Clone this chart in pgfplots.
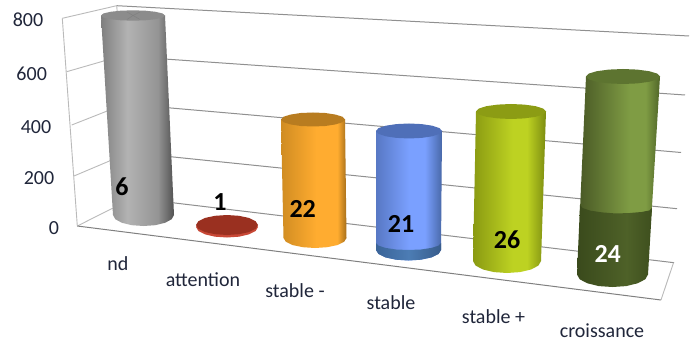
\documentclass[border=0pt]{standalone}
\usepackage{fontspec}
\setmainfont{Carlito}
\usepackage{pgfplots}
\pgfplotsset{compat=1.18}
\definecolor{gridline}{HTML}{909090}
\definecolor{wallline}{HTML}{BABABA}
\definecolor{floorline}{HTML}{808080}
\definecolor{ticktext}{HTML}{20263A}
% Side shadings of the cylinders (the path's box spans 25bp to 75bp)
\pgfdeclarehorizontalshading{cylgray}{100bp}{color(0bp)=(black!45!white); color(25bp)=(black!50!white); color(43bp)=(black!30!white); color(64bp)=(black!42!white); color(75bp)=(black!68!white); color(100bp)=(black!68!white)}
\definecolor{oa}{HTML}{D08C22}\definecolor{ob}{HTML}{FFAC30}\definecolor{oc}{HTML}{A56E1A}
\pgfdeclarehorizontalshading{cylorange}{100bp}{color(0bp)=(oa); color(25bp)=(oa); color(52bp)=(ob); color(68bp)=(ob); color(75bp)=(oc); color(100bp)=(oc)}
\definecolor{ba}{HTML}{5878C4}\definecolor{bb}{HTML}{7AA0FF}\definecolor{bc}{HTML}{4868A8}
\pgfdeclarehorizontalshading{cylblue}{100bp}{color(0bp)=(ba); color(25bp)=(ba); color(50bp)=(bb); color(62bp)=(bb); color(75bp)=(bc); color(100bp)=(bc)}
\definecolor{da}{HTML}{3A6498}\definecolor{db}{HTML}{4C7CB4}\definecolor{dc}{HTML}{385C8C}
\pgfdeclarehorizontalshading{cylbluedark}{100bp}{color(0bp)=(da); color(25bp)=(da); color(50bp)=(db); color(75bp)=(dc); color(100bp)=(dc)}
\definecolor{la}{HTML}{8A9A12}\definecolor{lb}{HTML}{BDD222}\definecolor{lc}{HTML}{7C8C10}
\pgfdeclarehorizontalshading{cyllime}{100bp}{color(0bp)=(la); color(25bp)=(la); color(52bp)=(lb); color(62bp)=(lb); color(75bp)=(lc); color(100bp)=(lc)}
\definecolor{ga}{HTML}{4A5A26}\definecolor{gb}{HTML}{7F9C44}\definecolor{gc}{HTML}{506628}
\pgfdeclarehorizontalshading{cylgreen}{100bp}{color(0bp)=(ga); color(25bp)=(ga); color(56bp)=(gb); color(66bp)=(gb); color(75bp)=(gc); color(100bp)=(gc)}
\definecolor{ka}{HTML}{3A4A1C}\definecolor{kb}{HTML}{4E6128}\definecolor{kc}{HTML}{3E4F1E}
\pgfdeclarehorizontalshading{cylgreendark}{100bp}{color(0bp)=(ka); color(25bp)=(ka); color(58bp)=(kb); color(75bp)=(kc); color(100bp)=(kc)}
\begin{document}
\begin{tikzpicture}
\begin{axis}[
  scale only axis, width=691pt, height=342pt,
  xmin=0, xmax=691, ymin=0, ymax=342, y dir=reverse,
  axis lines=none, clip=false,
  every node near coord/.append style={anchor=center, inner sep=0pt},
]
% Canvas
\addplot[draw=none, fill=white] coordinates {(0,0)(691,0)(691,342)(0,342)} --cycle;

% Left wall and back wall gridlines at 800, 600, 400, 200, 0
\addplot[wallline, line width=0.9pt, no markers] coordinates {(62.3,18.3)(116.7,5.7)};
\addplot[wallline, line width=0.9pt, no markers] coordinates {(66.7,71.7)(121,56)};
\addplot[wallline, line width=0.9pt, no markers] coordinates {(71.7,125)(125,104)};
\addplot[wallline, line width=0.9pt, no markers] coordinates {(74,176)(129.5,152.5)};
\addplot[wallline, line width=0.9pt, no markers] coordinates {(77.3,226)(133,198)};
\addplot[wallline, line width=0.9pt, no markers] coordinates {(62.3,18.3)(77.3,226)};
\addplot[wallline, line width=0.9pt, no markers] coordinates {(116.7,5.7)(133,198)};
\addplot[gridline, line width=1pt, no markers] coordinates {(116.7,5.7)(689,36)};
\addplot[gridline, line width=1pt, no markers] coordinates {(121,56)(685,95)};
\addplot[gridline, line width=1pt, no markers] coordinates {(125,104)(681,152.5)};
\addplot[gridline, line width=1pt, no markers] coordinates {(129.5,152.5)(677,208.7)};
\addplot[gridline, line width=1pt, no markers] coordinates {(133,198)(674,262.7)};
% Front and right edges of the floor
\addplot[floorline, line width=1pt, no markers] coordinates {(77.3,226)(661,300)};
\addplot[wallline, line width=0.9pt, no markers] coordinates {(661,300)(673.5,262.7)};

% nd
\addplot[draw=none, shade, shading=cylgray] coordinates {(101,15.5)(165,15.5)(174,215)(171.7,219.2)(165.1,222.8)(155.2,225.2)(143.5,226)(131.8,225.2)(121.9,222.8)(115.3,219.2)(113,215)} --cycle;
\addplot[draw=none, fill=black!45!white] coordinates {(165,15.5)(162.6,17.5)(155.6,19.2)(145.3,20.3)(133,20.7)(120.7,20.3)(110.4,19.2)(103.4,17.5)(101,15.5)(103.4,13.5)(110.4,11.8)(120.7,10.7)(133,10.3)(145.3,10.7)(155.6,11.8)(162.6,13.5)} --cycle;
\addplot[black!50!white, line width=0.5pt, no markers] coordinates {(127,12)(133,15.5)(127,19.5)};
\addplot[black!50!white, line width=0.5pt, no markers] coordinates {(140,12)(133,15.5)(140,19.5)};

% attention
\addplot[draw=none, fill={rgb,255:red,200;green,72;blue,54}] coordinates {(258,227)(255.6,231)(248.9,234.4)(238.9,236.7)(227,237.5)(215.1,236.7)(205.1,234.4)(198.4,231)(196,227)(198.4,223)(205.1,219.6)(215.1,217.3)(227,216.5)(238.9,217.3)(248.9,219.6)(255.6,223)} --cycle;
\addplot[draw=none, fill={rgb,255:red,154;green,48;blue,32}] coordinates {(258,225)(255.6,228.8)(248.9,232.1)(238.9,234.2)(227,235)(215.1,234.2)(205.1,232.1)(198.4,228.8)(196,225)(198.4,221.2)(205.1,217.9)(215.1,215.8)(227,215)(238.9,215.8)(248.9,217.9)(255.6,221.2)} --cycle;

% stable -
\addplot[draw=none, shade, shading=cylorange] coordinates {(281,119.5)(345,119.5)(346.5,238)(344.1,241.8)(337.3,245.1)(327.1,247.2)(315,248)(302.9,247.2)(292.7,245.1)(285.9,241.8)(283.5,238)} --cycle;
\addplot[draw=none, fill={rgb,255:red,184;green,124;blue,32}] coordinates {(345,119.5)(342.6,122.2)(335.6,124.4)(325.3,126)(313,126.5)(300.7,126)(290.4,124.4)(283.4,122.2)(281,119.5)(283.4,116.8)(290.4,114.6)(300.7,113)(313,112.5)(325.3,113)(335.6,114.6)(342.6,116.8)} --cycle;

% stable
\addplot[draw=none, shade, shading=cylblue] coordinates {(376,131)(442,131)(441,250)(438.5,254)(431.5,257.4)(420.9,259.7)(408.5,260.5)(396.1,259.7)(385.5,257.4)(378.5,254)(376,250)} --cycle;
\addplot[draw=none, shade, shading=cylbluedark] coordinates {(376,243)(378.5,245.7)(385.5,247.9)(396.1,249.5)(408.5,250)(420.9,249.5)(431.5,247.9)(438.5,245.7)(441,243)(441,250)(438.5,254)(431.5,257.4)(420.9,259.7)(408.5,260.5)(396.1,259.7)(385.5,257.4)(378.5,254)(376,250)} --cycle;
\addplot[draw=none, fill={rgb,255:red,79;green,111;blue,184}] coordinates {(442,131)(439.5,133.9)(432.3,136.3)(421.6,137.9)(409,138.5)(396.4,137.9)(385.7,136.3)(378.5,133.9)(376,131)(378.5,128.1)(385.7,125.7)(396.4,124.1)(409,123.5)(421.6,124.1)(432.3,125.7)(439.5,128.1)} --cycle;

% stable +
\addplot[draw=none, shade, shading=cyllime] coordinates {(476,111.5)(546,111.5)(541,261)(538.4,265.6)(531,269.5)(520,272.1)(507,273)(494,272.1)(483,269.5)(475.6,265.6)(473,261)} --cycle;
\addplot[draw=none, fill={rgb,255:red,140;green,156;blue,20}] coordinates {(546,111.5)(543.3,114.4)(535.7,116.8)(524.4,118.4)(511,119)(497.6,118.4)(486.3,116.8)(478.7,114.4)(476,111.5)(478.7,108.6)(486.3,106.2)(497.6,104.6)(511,104)(524.4,104.6)(535.7,106.2)(543.3,108.6)} --cycle;

% croissance
\addplot[draw=none, shade, shading=cylgreen] coordinates {(586,76.5)(660,76.5)(651.4,216)(579.7,216)} --cycle;
\addplot[draw=none, shade, shading=cylgreendark] coordinates {(580,205)(582.7,208.1)(590.5,210.7)(602.2,212.4)(616,213.5)(629.8,213)(641.5,212)(649.3,210.5)(652,208)(648,274.5)(645.3,279.3)(637.6,283.3)(626.1,286.1)(612.5,287)(598.9,286.1)(587.4,283.3)(579.7,279.3)(577,274.5)} --cycle;
\addplot[draw=none, fill={rgb,255:red,93;green,116;blue,48}] coordinates {(660,76.5)(657.2,79.4)(649.2,81.8)(637.2,83.4)(623,84)(608.8,83.4)(596.8,81.8)(588.8,79.4)(586,76.5)(588.8,73.6)(596.8,71.2)(608.8,69.6)(623,69)(637.2,69.6)(649.2,71.2)(657.2,73.6)} --cycle;

% Value axis labels
\addplot[draw=none, no markers, nodes near coords, point meta=explicit symbolic,
  every node near coord/.append style={font=\fontsize{20}{20}\selectfont, text=ticktext}]
  table[row sep=\\, col sep=comma, x=x, y=y, meta=label] {
  x,y,label\\
  28,20,800\\
  31.7,74,600\\
  36,126.7,400\\
  39,177.7,200\\
  54,227.7,0\\
};
% Category labels
\addplot[draw=none, no markers, nodes near coords, point meta=explicit symbolic,
  every node near coord/.append style={font=\fontsize{20}{20}\selectfont, text=ticktext}]
  table[row sep=\\, col sep=comma, x=x, y=y, meta=label] {
  x,y,label\\
  118,264,nd\\
  203,280,attention\\
  295,291,stable -\\
  391,302.7,stable\\
  493.5,316.7,stable +\\
  602,331,croissance\\
};
% Data labels
\addplot[draw=none, no markers, nodes near coords, point meta=explicit symbolic,
  every node near coord/.append style={font=\fontsize{26}{26}\selectfont\bfseries, text=black}]
  table[row sep=\\, col sep=comma, x=x, y=y, meta=label] {
  x,y,label\\
  122,186.7,6\\
  220,202,1\\
  302.7,209,22\\
  401,224,21\\
  507,240,26\\
};
\addplot[draw=none, no markers, nodes near coords, point meta=explicit symbolic,
  every node near coord/.append style={font=\fontsize{26}{26}\selectfont\bfseries, text=white}]
  table[row sep=\\, col sep=comma, x=x, y=y, meta=label] {
  x,y,label\\
  607.7,254,24\\
};
\end{axis}
\end{tikzpicture}
\end{document}
